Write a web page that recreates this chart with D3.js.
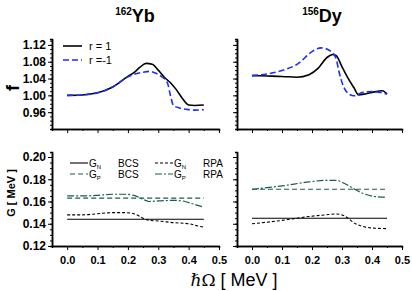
<!DOCTYPE html>
<html>
<head>
<meta charset="utf-8">
<script src="https://cdn.jsdelivr.net/npm/d3@7"></script>
<style>
  body { margin: 0; background: #fff; }
  svg { display: block; font-family: Arial, "Liberation Sans", sans-serif; }
</style>
</head>
<body>
<script>
// ---- data ----
// top row: f vs hbar*Omega (MeV)
const ybR1X  = [0, .05, .10, .15, .20, .22, .24, .26, .28, .30, .32, .34, .36, .38, .40, .42, .45]
const ybR1   = [1.000, 1.001, 1.006, 1.020, 1.045, 1.054, 1.067, 1.076, 1.074, 1.060, 1.043, 1.030, 1.013, 0.992, 0.977, 0.976, 0.977]
const ybRm1X = [0, .05, .10, .15, .20, .22, .25, .27, .29, .31, .33, .34, .35, .37, .40, .42, .45]
const ybRm1  = [1.000, 1.001, 1.006, 1.020, 1.044, 1.050, 1.055, 1.057, 1.053, 1.045, 1.030, 1.000, 0.976, 0.970, 0.966, 0.965, 0.966]

const dyR1X  = [0, .05, .10, .15, .19, .22, .25, .27, .28, .30, .32, .34, .355, .38, .40, .435, .45]
const dyR1   = [1.047, 1.046, 1.045, 1.043, 1.049, 1.064, 1.090, 1.097, 1.095, 1.068, 1.041, 1.018, 1.001, 1.004, 1.007, 1.011, 1.003]
const dyRm1X = [0, .05, .10, .155, .20, .23, .26, .28, .29, .305, .32, .34, .37, .40, .45]
const dyRm1  = [1.047, 1.051, 1.059, 1.076, 1.104, 1.113, 1.106, 1.088, 1.056, 1.021, 1.005, 0.999, 1.007, 1.009, 1.003]

// bottom row: G (MeV)
const flatX     = [0, .45]
const ybGnBcs   = [0.144, 0.144]
const ybGpBcs   = [0.163, 0.163]
const ybGnRpaX  = [0, .05, .10, .15, .19, .22, .25, .27, .30, .35, .40, .43, .45]
const ybGnRpa   = [0.148, 0.148, 0.149, 0.150, 0.150, 0.149, 0.145, 0.143, 0.1425, 0.141, 0.140, 0.138, 0.137]
const ybGpRpaX  = [0, .05, .10, .15, .19, .22, .25, .27, .30, .35, .38, .40, .43, .45]
const ybGpRpa   = [0.165, 0.165, 0.1655, 0.1665, 0.1665, 0.1655, 0.162, 0.160, 0.1605, 0.161, 0.1605, 0.159, 0.1565, 0.155]

const dyGnBcs   = [0.145, 0.145]
const dyGpBcs   = [0.171, 0.171]
const dyRpaX    = [0, .10, .19, .245, .28, .31, .345, .378, .41, .45]
const dyGpRpa   = [0.171, 0.174, 0.1776, 0.179, 0.179, 0.176, 0.1706, 0.1665, 0.1644, 0.1638]
const dyGnRpa   = [0.140, 0.143, 0.1465, 0.148, 0.1488, 0.1468, 0.140, 0.137, 0.136, 0.1356]

const xTicks = [0, .1, .2, .3, .4, .5]
const fTicks = [0.96, 1.00, 1.04, 1.08, 1.12]
const gTicks = [0.12, 0.14, 0.16, 0.18, 0.20]

const BLUE = '#1f2ef0'
const TEAL = '#1f5a50'

const svg = d3.select('body').append('svg')
  .attr('width', 412)
  .attr('height', 291)

// scales
const xLeft  = d3.scaleLinear().domain([-0.05, 0.5]).range([52, 219])
const xRight = d3.scaleLinear().domain([-0.05, 0.5]).range([237, 402])
const yF = d3.scaleLinear().domain([0.92, 1.134]).range([129, 39])
const yG = d3.scaleLinear().domain([0.12, 0.2045]).range([246, 152])

function zip(xs, ys) { return xs.map((x, i) => [x, ys[i]]) }

function drawAxes(x, y, yMajor, yMinorStep, showYLabels, showXLabels, yFmt) {
  const g = svg.append('g')
  const x0 = x.range()[0]
  const y0 = y.range()[0]

  // y minor ticks
  const yMinor = d3.range(y.domain()[0], y.domain()[1] + 1e-9, yMinorStep)
  g.append('g')
    .attr('transform', `translate(${x0},0)`)
    .call(d3.axisLeft(y).tickValues(yMinor).tickSize(2).tickFormat(''))
  // y major ticks
  const ya = g.append('g')
    .attr('transform', `translate(${x0},0)`)
    .call(d3.axisLeft(y).tickValues(yMajor).tickSize(4).tickSizeOuter(0)
      .tickFormat(showYLabels ? yFmt : ''))
  ya.selectAll('text')
    .style('font-size', '12px')
    .style('font-weight', 'bold')
    .attr('x', -6)
    .attr('fill', '#000')

  // x minor ticks
  g.append('g')
    .attr('transform', `translate(0,${y0})`)
    .call(d3.axisBottom(x).tickValues(d3.range(0.05, 0.5, 0.1)).tickSize(2).tickFormat(''))
  const xa = g.append('g')
    .attr('transform', `translate(0,${y0})`)
    .call(d3.axisBottom(x).tickValues(xTicks).tickSize(4).tickSizeOuter(0)
      .tickFormat(showXLabels ? d3.format('.1f') : ''))
  xa.selectAll('text')
    .style('font-size', '11px')
    .style('font-weight', 'bold')
    .attr('y', 10)
    .attr('fill', '#000')

  g.selectAll('.domain').attr('stroke', '#000').attr('stroke-width', 1.5)
  g.selectAll('.tick line').attr('stroke', '#000').attr('stroke-width', 1)
}

function drawLine(x, y, pts, color, dash, width) {
  svg.append('path')
    .datum(pts)
    .attr('d', d3.line().x(d => x(d[0])).y(d => y(d[1])).curve(d3.curveMonotoneX))
    .attr('fill', 'none')
    .attr('stroke', color)
    .attr('stroke-width', width)
    .attr('stroke-dasharray', dash)
}

// panels
drawAxes(xLeft, yF, fTicks, 0.01, true, false, d3.format('.2f'))
drawAxes(xRight, yF, fTicks, 0.01, false, false, d3.format('.2f'))
drawAxes(xLeft, yG, gTicks, 0.005, true, true, d3.format('.2f'))
drawAxes(xRight, yG, gTicks, 0.005, false, true, d3.format('.2f'))

drawLine(xLeft, yF, zip(ybR1X, ybR1), '#000', null, 1.6)
drawLine(xLeft, yF, zip(ybRm1X, ybRm1), BLUE, '6,3', 1.6)
drawLine(xRight, yF, zip(dyR1X, dyR1), '#000', null, 1.6)
drawLine(xRight, yF, zip(dyRm1X, dyRm1), BLUE, '6,3', 1.6)

drawLine(xLeft, yG, zip(flatX, ybGnBcs), '#000', null, 1.1)
drawLine(xLeft, yG, zip(ybGnRpaX, ybGnRpa), '#000', '3,2', 1.1)
drawLine(xLeft, yG, zip(flatX, ybGpBcs), TEAL, '5,3', 1.2)
drawLine(xLeft, yG, zip(ybGpRpaX, ybGpRpa), TEAL, '7,2,2,2', 1.2)

drawLine(xRight, yG, zip(flatX, dyGnBcs), '#000', null, 1.1)
drawLine(xRight, yG, zip(dyRpaX, dyGnRpa), '#000', '3,2', 1.1)
drawLine(xRight, yG, zip(flatX, dyGpBcs), TEAL, '5,3', 1.2)
drawLine(xRight, yG, zip(dyRpaX, dyGpRpa), TEAL, '7,2,2,2', 1.2)

// titles
function nucleus(cx, mass, name) {
  const t = svg.append('text')
    .attr('x', cx).attr('y', 22)
    .attr('text-anchor', 'middle')
    .style('font-weight', 'bold')
  t.append('tspan').text(mass).style('font-size', '10px').attr('dy', -7)
  t.append('tspan').text(name).style('font-size', '18px').attr('dy', 7)
}
nucleus(135, '162', 'Yb')
nucleus(322, '156', 'Dy')

// axis titles
svg.append('text')
  .attr('transform', 'translate(19,88) rotate(-90)')
  .attr('text-anchor', 'middle')
  .style('font-size', '18px')
  .style('font-weight', 'bold')
  .text('f')

svg.append('text')
  .attr('transform', 'translate(15,193) rotate(-90)')
  .attr('text-anchor', 'middle')
  .style('font-size', '11px')
  .style('font-weight', 'bold')
  .text('G  [ MeV ]')

const xt = svg.append('text')
  .attr('x', 234).attr('y', 286)
  .attr('text-anchor', 'middle')
  .style('font-size', '18px')
xt.append('tspan').text('\u210F\u03A9').style('font-family', '"DejaVu Serif", "Liberation Serif", serif')
  .style('font-size', '17px')
xt.append('tspan').text(' [ MeV ]')

// legend top-left
const legF = [
  { label: 'r = 1', color: '#000', dash: null, y: 46 },
  { label: 'r =-1', color: BLUE, dash: '6,3', y: 60 }
]
legF.forEach(d => {
  svg.append('line')
    .attr('x1', 63).attr('x2', 82).attr('y1', d.y).attr('y2', d.y)
    .attr('stroke', d.color).attr('stroke-width', 1.6)
    .attr('stroke-dasharray', d.dash)
  svg.append('text')
    .attr('x', 89).attr('y', d.y + 4)
    .style('font-size', '11px')
    .text(d.label)
})

// legend bottom
const legG = [
  { sub: 'N', tail: 'BCS', color: '#000', dash: null, x: 70, y: 163 },
  { sub: 'N', tail: 'RPA', color: '#000', dash: '3,2', x: 155, y: 163 },
  { sub: 'P', tail: 'BCS', color: TEAL, dash: '5,3', x: 70, y: 174 },
  { sub: 'P', tail: 'RPA', color: TEAL, dash: '7,2,2,2', x: 155, y: 174 }
]
legG.forEach(d => {
  svg.append('line')
    .attr('x1', d.x).attr('x2', d.x + 18).attr('y1', d.y).attr('y2', d.y)
    .attr('stroke', d.color).attr('stroke-width', 1.1)
    .attr('stroke-dasharray', d.dash)
  const t = svg.append('text')
    .attr('x', d.x + 19).attr('y', d.y + 4)
    .style('font-size', '10px')
  t.append('tspan').text('G')
  t.append('tspan').text(d.sub).style('font-size', '6px').attr('dy', 2)
  t.append('tspan').text(d.tail).attr('x', d.x + 48).attr('dy', -2)
})
</script>
</body>
</html>
